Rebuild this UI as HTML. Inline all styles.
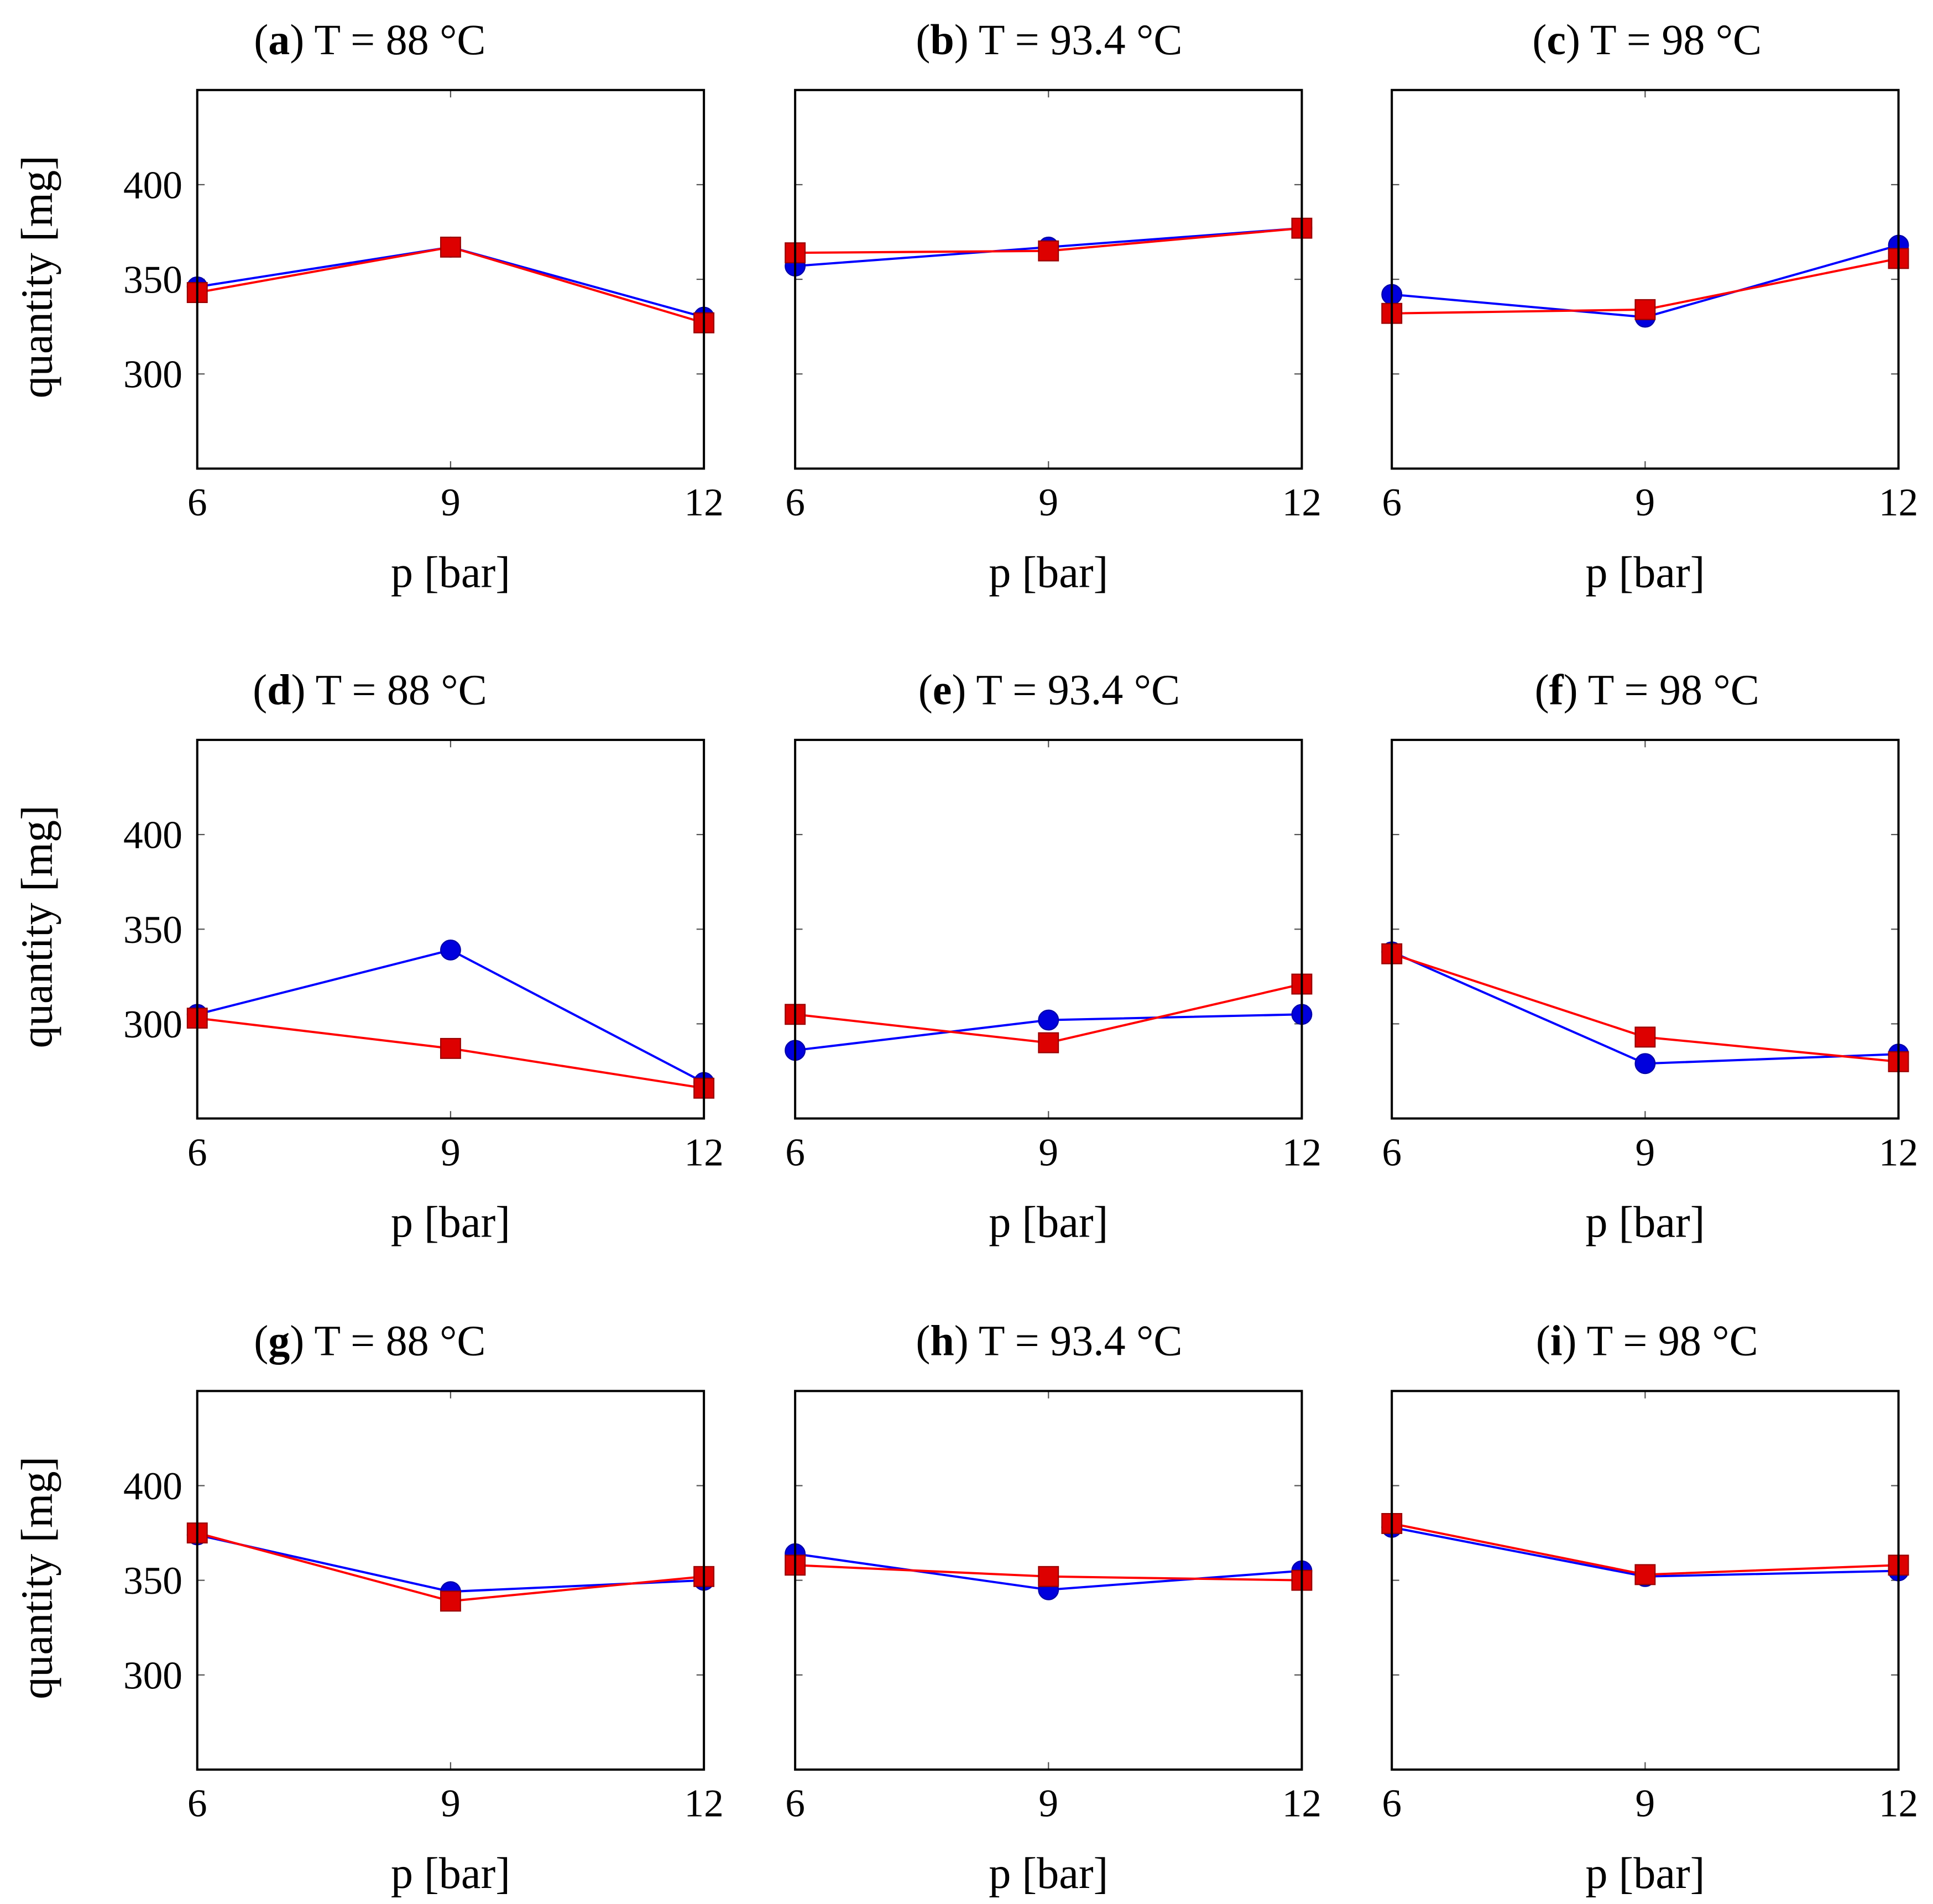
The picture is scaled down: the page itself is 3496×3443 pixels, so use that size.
<!DOCTYPE html>
<html><head><meta charset="utf-8"><style>
html,body{margin:0;padding:0;background:#fff}
svg{display:block}
text{font-family:"Liberation Serif","DejaVu Serif",serif;fill:#000}
</style></head><body>
<svg id="chart" width="3496" height="3443" viewBox="0 0 1568 1544" preserveAspectRatio="none" xmlns="http://www.w3.org/2000/svg"></svg>
<script>
const panelLetters = ["a","b","c","d","e","f","g","h","i"];
const panelTemps = ["88","93.4","98","88","93.4","98","88","93.4","98"];
const pressures = [6, 9, 12];
const yTicks = [300, 350, 400];
const blueA=[346,367,330], redA=[343,367,327];
const blueB=[357,367,377], redB=[364,365,377];
const blueC=[342,330,368], redC=[332,334,361];
const blueD=[305,339,269], redD=[303,287,266];
const blueE=[286,302,305], redE=[305,290,321];
const blueF=[338,279,284], redF=[337,293,280];
const blueG=[374,344,350], redG=[375,339,352];
const blueH=[364,345,355], redH=[358,352,350];
const blueI=[378,352,355], redI=[380,353,358];
const blueSeries=[blueA,blueB,blueC,blueD,blueE,blueF,blueG,blueH,blueI];
const redSeries=[redA,redB,redC,redD,redE,redF,redG,redH,redI];

const NS="http://www.w3.org/2000/svg";
const svg=document.getElementById('chart');
function mk(tag,attrs,parent){const e=document.createElementNS(NS,tag);for(const k in attrs)e.setAttribute(k,attrs[k]);(parent||svg).appendChild(e);return e;}
const colX=[160,645,1129], rowY=[73,600,1128], W=411, H=307;
const titleCX=[300,851,1336];
const yMin=250,yMax=450,xMin=6,xMax=12;

for(let i=0;i<9;i++){
  const c=i%3,r=Math.floor(i/3);
  const L=colX[c],T=rowY[r];
  const xs=v=>L+(v-xMin)/(xMax-xMin)*W;
  const ys=v=>T+H-(v-yMin)/(yMax-yMin)*H;
  const g=mk('g',{});
  
  
  const t=mk('text',{x:titleCX[c],y:T-29,'text-anchor':'middle','font-size':35},g);
  
  
  t.innerHTML='(<tspan font-weight="bold">'+panelLetters[i]+'</tspan>) T = '+panelTemps[i]+' °C';
  yTicks.forEach(v=>{
    mk('line',{x1:L,x2:L+6,y1:ys(v),y2:ys(v),stroke:'#555','stroke-width':1},g);
    mk('line',{x1:L+W-6,x2:L+W,y1:ys(v),y2:ys(v),stroke:'#555','stroke-width':1},g);
    if(c===0){const tl=mk('text',{x:L-12,y:ys(v)+11,'text-anchor':'end','font-size':32},g);tl.textContent=v;
      
      }
  });
  pressures.forEach(p=>{
    mk('line',{x1:xs(p),x2:xs(p),y1:T+H,y2:T+H-6,stroke:'#555','stroke-width':1},g);
    mk('line',{x1:xs(p),x2:xs(p),y1:T,y2:T+6,stroke:'#555','stroke-width':1},g);
    const tl=mk('text',{x:xs(p),y:T+H+38,'text-anchor':'middle','font-size':32},g);tl.textContent=p;
    
    
  });
  const xt=mk('text',{x:L+W/2,y:T+H+96,'text-anchor':'middle','font-size':36},g);xt.textContent='p [bar]';
  
  
  if(c===0){const yt=mk('text',{x:0,y:0,'text-anchor':'middle','font-size':36,transform:`translate(42,${T+H/2-2}) rotate(-90)`},g);yt.textContent='quantity [mg]';
    
    }
  const b=blueSeries[i], rd=redSeries[i];
  const bl=mk('polyline',{points:pressures.map((p,k)=>xs(p)+','+ys(b[k])).join(' '),fill:'none',stroke:'#0000ff','stroke-width':1.8},g);
  
  
  pressures.forEach((p,k)=>{const m=mk('circle',{cx:xs(p),cy:ys(b[k]),r:8,fill:'#0000dd',stroke:'#0000aa','stroke-width':1},g);
    
    });
  const rl=mk('polyline',{points:pressures.map((p,k)=>xs(p)+','+ys(rd[k])).join(' '),fill:'none',stroke:'#ff0000','stroke-width':1.8},g);
  
  
  pressures.forEach((p,k)=>{const m=mk('rect',{x:xs(p)-8,y:ys(rd[k])-8,width:16,height:16,fill:'#dd0000',stroke:'#990000','stroke-width':1},g);
    
    });
  const fr=mk('rect',{x:L,y:T,width:W,height:H,fill:'none',stroke:'#000','stroke-width':1.8},g);
  
  
}
</script>
</body></html>
